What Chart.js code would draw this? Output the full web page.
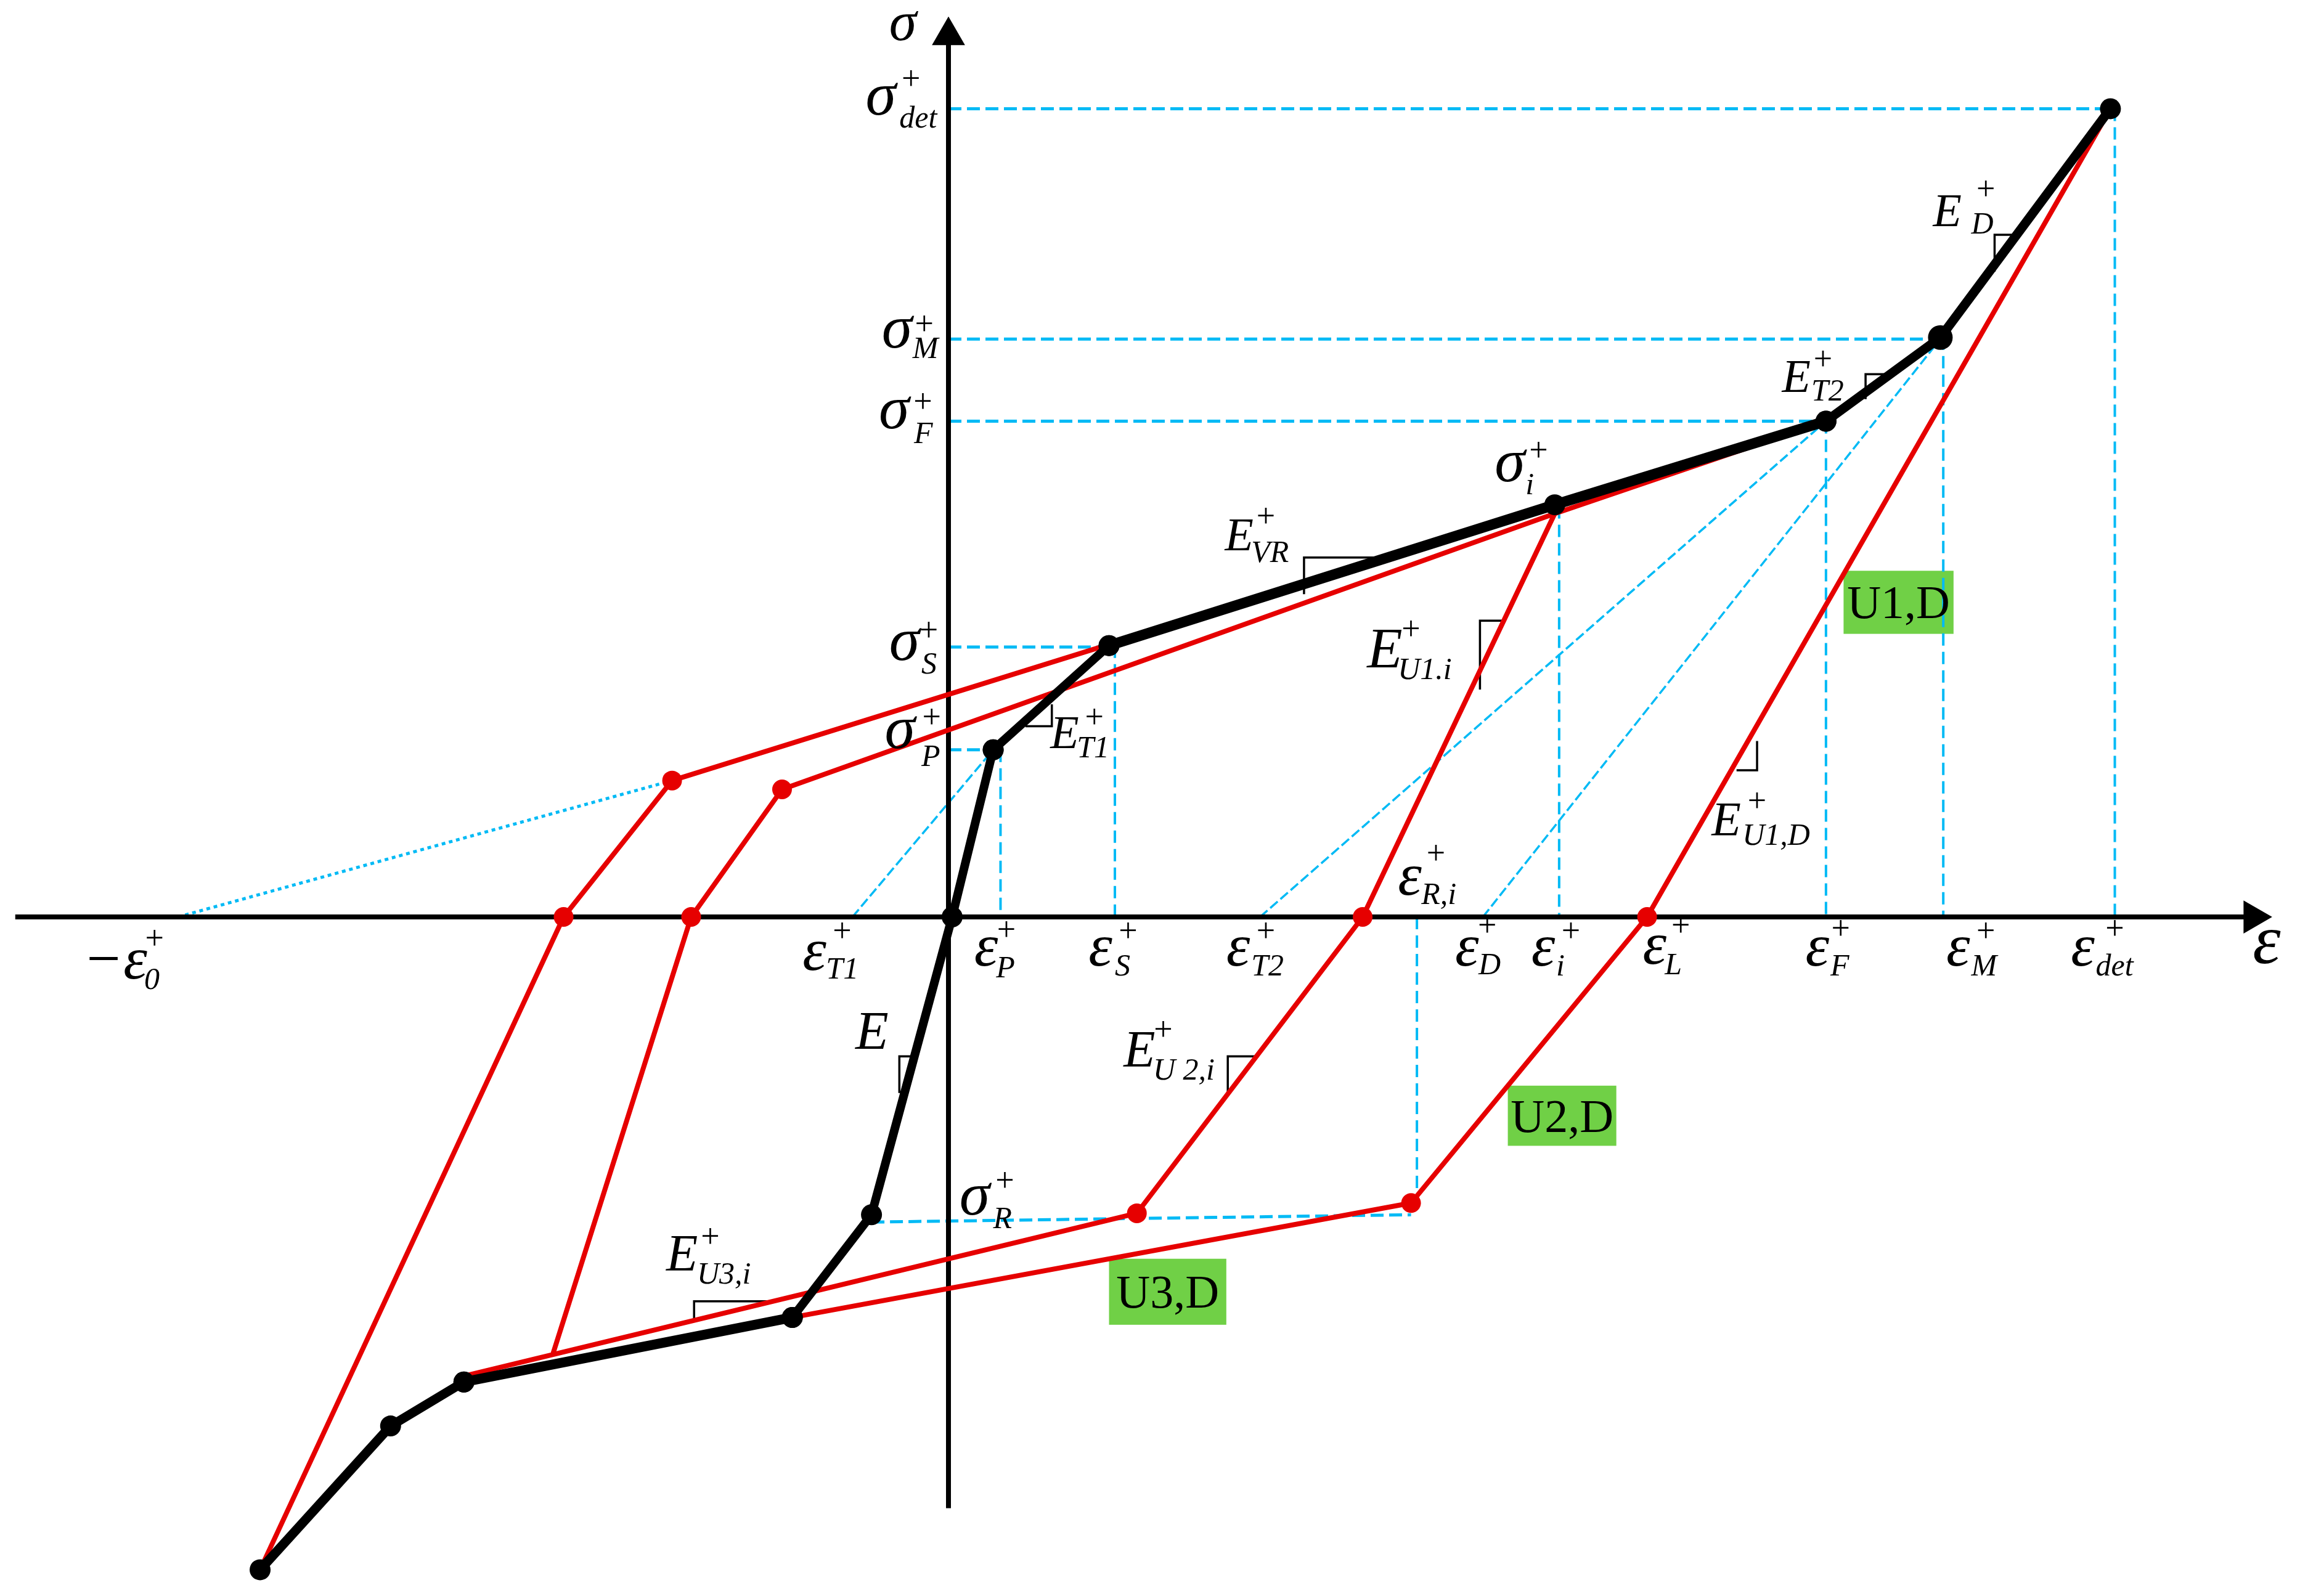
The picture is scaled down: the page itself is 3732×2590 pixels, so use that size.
<!DOCTYPE html>
<html>
<head>
<meta charset="utf-8">
<style>html,body{margin:0;padding:0;background:#fff}canvas{display:block}</style>
<script src="https://cdn.jsdelivr.net/npm/chart.js@4/dist/chart.umd.min.js"></script>
</head>
<body>
<canvas id="c" width="3732" height="2590" style="width:3732px;height:2590px"></canvas>
<script>
// ---- values (strain, stress) ----
const blackTail   = [[-472,-445],[-383,-347],[-333,-317]];
const blackLower  = [[-333,-317],[-109,-273]];
const blackElastic= [[-109,-273],[-55,-203],[0,0],[28,114]];
const blackT1     = [[28,114],[107,185]];
const blackUpper  = [[107,185],[411,281],[596,338]];
const blackTop    = [[596,338],[674,395],[790,551]];

const redOuterUnload = [[790,551],[474,0],[313,-195],[-109,-273]];
const redInnerUnload = [[411,275],[280,0],[126,-202],[-333,-313]];
const redInnerReload = [[596,338],[411,275],[-116,87],[-178,0],[-272,-297]];
const redOuterReload = [[596,338],[-191,93],[-265,0],[-472,-445]];

const guideH = [
  [[-2.5,551],[790,551]],[[-2.5,394],[674,394]],[[-2.5,338],[596,338]],
  [[-2.5,184],[107,184]],[[-2.5,114],[28,114]],[[-55,-208],[313,-203]]
];
const guideV = [
  [[793,551],[793,0]],[[676,395],[676,0]],[[596,338],[596,0]],
  [[414,280],[414,0]],[[111,185],[111,0]],[[33,114],[33,0]],[[317,0],[317,-197]]
];
const guideD = [[[-68,0],[28,114]],[[210,0],[596,338]],[[362,0],[674,394]]];
const guideOffset = [[-528,0],[-191,93]];

const slopeMarks = [
  [[729,465],[711,465],[711,440]],[[639,370],[623,370],[623,353]],
  [[296,245],[240,245],[240,220]],[[68,145],[68,130],[50,130]],
  [[375,202],[360,202],[360,155]],[[549,120],[549,100],[535,100]],
  [[-25,-95],[-36,-95],[-36,-120]],[[207,-95],[188,-95],[188,-120]],
  [[-121,-262],[-176,-262],[-176,-275]]
];
const xAxisLine = [[-639,0],[887.3,0]];
const yAxisLine = [[-2.5,-403],[-2.5,600.8]];

// ---- labels ----
const branchNames = ["U1,D","U2,D","U3,D"];
const branchBoxes = [[608,236,683,193],[379,-115,453,-156],[107,-233,187,-278]];

// base, sub, x, baseline, plus-x, plus-y, sub-x, sub-baseline, base font size
const labels = [
  ["σ","",-43,598,0,0,0,0,90],
  ["σ","det",-59,547,-28,570,-36,538,100],
  ["σ","M",-48,388,-19,403,-27,381,100],
  ["σ","F",-50,333,-20,350,-26,323,100],
  ["σ","S",-43,175,-16,194,-21,166,100],
  ["σ","P",-46,115,-14,135,-21,103,100],
  ["σ","R",5,-203,36,-181,28,-212,100],
  ["σ","i",370,297,400,317,391,288,100],
  ["E","VR",186,250,214,272,204,242,76],
  ["E","D",669,471,705,495,695,466,76],
  ["E","T2",566,358,594,379,586,352,76],
  ["E","T1",67,115,97,135,85,109,76],
  ["E","U1.i",283,170,313,195,304,162,94],
  ["E","U1,D",518,56,549,78,539,49,78],
  ["E","",-66,-90,0,0,0,0,88],
  ["E","U 2,i",117,-102,144,-78,137,-111,84],
  ["E","U3,i",-195,-241,-165,-219,-174,-250,84],
  ["−ε","0",-593,-42,-544,-16,-551,-49,98],
  ["ε","T1",-102,-36,-75,-11,-86,-42,98],
  ["ε","P",15,-33,37,-10,30,-41,98],
  ["ε","S",93,-33,120,-11,111,-40,98],
  ["ε","T2",187,-33,214,-11,204,-40,98],
  ["ε","D",343,-33,365,-7,359,-39,98],
  ["ε","i",395,-33,422,-11,412,-40,98],
  ["ε","L",471,-32,497,-7,486,-39,98],
  ["ε","F",582,-33,606,-9,599,-40,98],
  ["ε","M",678,-33,705,-11,695,-40,98],
  ["ε","det",763,-33,793,-9,780,-40,98],
  ["ε","R,i",304,15,330,42,320,9,98],
  ["ε","",887,-31.5,0,0,0,0,115]
];

const pts = a => a.map(p => ({x:p[0], y:p[1]}));
const RED = '#e60000', BLUE = '#00baf5', BLACK = '#000';

function line(data, color, width, radius, extra){
  return Object.assign({
    data: pts(data), showLine:true, borderColor:color, backgroundColor:color,
    borderWidth:width, pointRadius:radius, pointHoverRadius:radius, pointBorderWidth:0,
    borderCapStyle:'round', borderJoinStyle:'round', tension:0, clip:false
  }, extra||{});
}

// first dataset is drawn on top
const datasets = [
  line(blackTop, BLACK, 15, c=>[17,20,17][c.dataIndex]),
  line(blackUpper, BLACK, 17, 17),
  line(blackT1, BLACK, 14, 17),
  line(blackElastic, BLACK, 14, 17),
  line(blackLower, BLACK, 16, 17),
  line(blackTail, BLACK, 15, 17),
  line(redOuterUnload, RED, 8, c=>[0,16,16,0][c.dataIndex]),
  line(redInnerUnload, RED, 8, c=>[0,16,16,0][c.dataIndex]),
  line(redInnerReload, RED, 8, c=>[0,0,16,16,0][c.dataIndex]),
  line(redOuterReload, RED, 8, c=>[0,16,16,0][c.dataIndex]),
  line(xAxisLine, BLACK, 8, c=>[0,31][c.dataIndex], {pointStyle:'triangle', pointRotation:90, borderCapStyle:'butt'}),
  line(yAxisLine, BLACK, 8, c=>[0,31][c.dataIndex], {pointStyle:'triangle', borderCapStyle:'butt'})
];
slopeMarks.forEach(m => datasets.push(line(m, BLACK, 3.5, 0, {borderCapStyle:'butt', borderJoinStyle:'miter'})));
guideH.forEach(g => datasets.push(line(g, BLUE, 5, 0, {borderDash:[21,9], borderCapStyle:'butt'})));
guideV.forEach(g => datasets.push(line(g, BLUE, 4, 0, {borderDash:[20,10], borderCapStyle:'butt'})));
guideD.forEach(g => datasets.push(line(g, BLUE, 3.5, 0, {borderDash:[16,6], borderCapStyle:'butt'})));
datasets.push(line(guideOffset, BLUE, 5, 0, {borderDash:[6,6], borderCapStyle:'butt'}));

const SERIF = '"Liberation Serif","Times New Roman",serif';

const annotate = {
  id:'annotate',
  beforeDatasetsDraw(chart){
    const {ctx, scales:{x,y}} = chart;
    ctx.save();
    ctx.fillStyle = '#70d046';
    branchBoxes.forEach(b => {
      const l=x.getPixelForValue(b[0]), r=x.getPixelForValue(b[2]);
      const t=y.getPixelForValue(b[1]), d=y.getPixelForValue(b[3]);
      ctx.fillRect(l,t,r-l,d-t);
    });
    ctx.restore();
  },
  afterDatasetsDraw(chart){
    const {ctx, scales:{x,y}} = chart;
    ctx.save();
    ctx.fillStyle = '#000';
    ctx.textBaseline = 'alphabetic';
    ctx.textAlign = 'center';
    ctx.font = '76px '+SERIF;
    branchNames.forEach((n,i) => {
      const b = branchBoxes[i];
      ctx.fillText(n, x.getPixelForValue((b[0]+b[2])/2), y.getPixelForValue((b[1]+b[3])/2)+26);
    });
    labels.forEach(L => {
      const [base,sub,bx,by,px,py,sx,sy,size] = L;
      ctx.textAlign='left'; ctx.textBaseline='alphabetic';
      ctx.font = 'italic '+size+'px '+SERIF;
      ctx.fillText(base, x.getPixelForValue(bx), y.getPixelForValue(by));
      if(px||py){
        ctx.textAlign='center'; ctx.textBaseline='middle';
        ctx.font = '54px '+SERIF;
        ctx.fillText('+', x.getPixelForValue(px), y.getPixelForValue(py));
      }
      if(sub){
        ctx.textAlign='left'; ctx.textBaseline='alphabetic';
        ctx.font = 'italic 50px '+SERIF;
        ctx.fillText(sub, x.getPixelForValue(sx), y.getPixelForValue(sy));
      }
    });
    ctx.restore();
  }
};

new Chart(document.getElementById('c'), {
  type:'scatter',
  data:{datasets},
  plugins:[annotate],
  options:{
    responsive:false, animation:false, devicePixelRatio:1,
    layout:{padding:0, autoPadding:false},
    plugins:{legend:{display:false}, title:{display:false}, tooltip:{enabled:false}},
    events:[],
    scales:{
      x:{type:'linear', min:-649.4, max:919.3, display:false},
      y:{type:'linear', min:-462.9, max:625.1, display:false}
    }
  }
});
</script>
</body>
</html>
